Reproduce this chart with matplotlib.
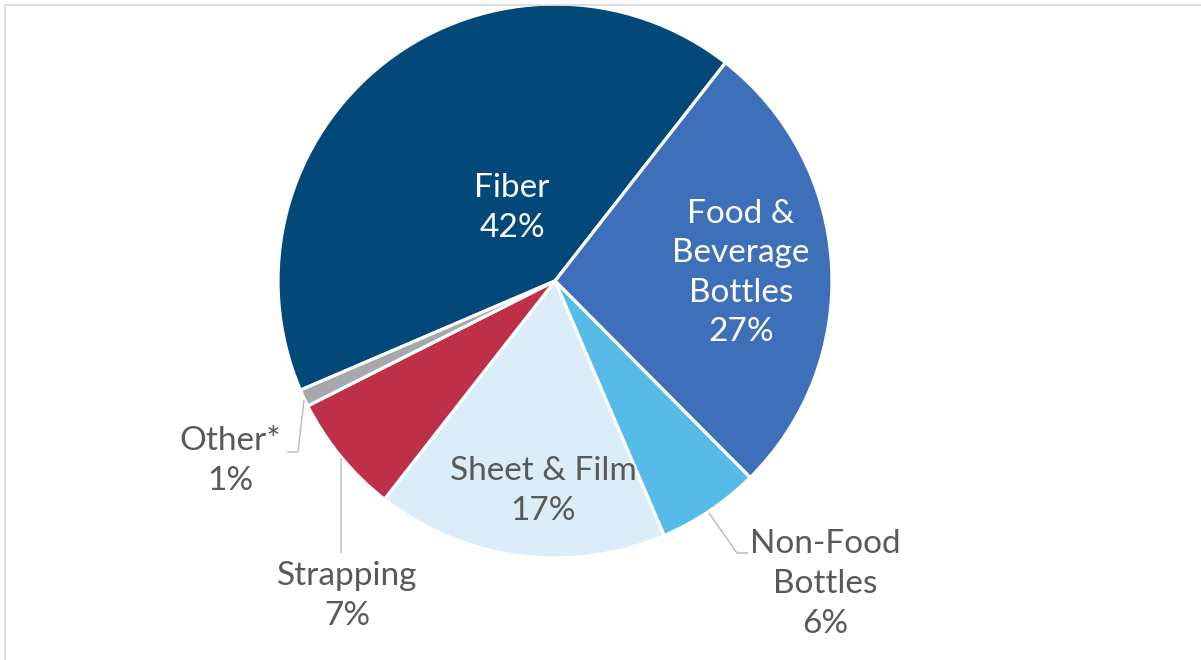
import matplotlib
matplotlib.use("Agg")
import matplotlib.pyplot as plt
from matplotlib.patches import Rectangle

categories = ["Fiber", "Food &\nBeverage\nBottles", "Non-Food\nBottles", "Sheet & Film", "Strapping", "Other*"]
values = [42, 27, 6, 17, 7, 1]
colors = ["#024879", "#3E70B9", "#56BBE9", "#DAEDF8", "#BE304A", "#A6A8AB"]
text_colors = ["white", "white", "#595959", "#595959", "#595959", "#595959"]

W, H = 1201, 660
fig = plt.figure(figsize=(W / 100, H / 100), dpi=100)
ax = fig.add_axes([0, 0, 1, 1])

cx, cy, R = 555, H - 281, 277
wedges, _ = ax.pie(values, colors=colors, startangle=203.2, counterclock=False,
                   center=(cx, cy), radius=R,
                   wedgeprops=dict(edgecolor="white", linewidth=2.3))
ax.set_xlim(0, W)
ax.set_ylim(0, H)
ax.set_aspect("equal")
ax.axis("off")

# label layout (pixel coords from top-left)
label_pos = [(512, 208), (741, 273), (825, 584), (543, 491), (347, 596), (230, 461)]
font = dict(family=["Lato", "DejaVu Sans"], fontsize=24, linespacing=1.4)
for name, v, tc, (x, y) in zip(categories, values, text_colors, label_pos):
    ax.text(x, H - y, f"{name}\n{v}%", color=tc, ha="center", va="center", **font)

# leader lines
lc = "#BFBFBF"
leaders = [
    [(709, 513), (737, 553), (748, 553)],
    [(341, 458), (341, 553)],
    [(304, 400), (298, 452), (287, 452)],
]
for pts in leaders:
    xs = [p[0] for p in pts]
    ys = [H - p[1] for p in pts]
    ax.plot(xs, ys, color=lc, lw=1.1, solid_capstyle="butt")

# frame
fig.patches.append(Rectangle((5 / W, -0.1), 1.2, (H - 5.5) / H + 0.1, transform=fig.transFigure,
                             fill=False, edgecolor="#D9D9D9", lw=1.2))

fig.savefig("out.png", dpi=100)
